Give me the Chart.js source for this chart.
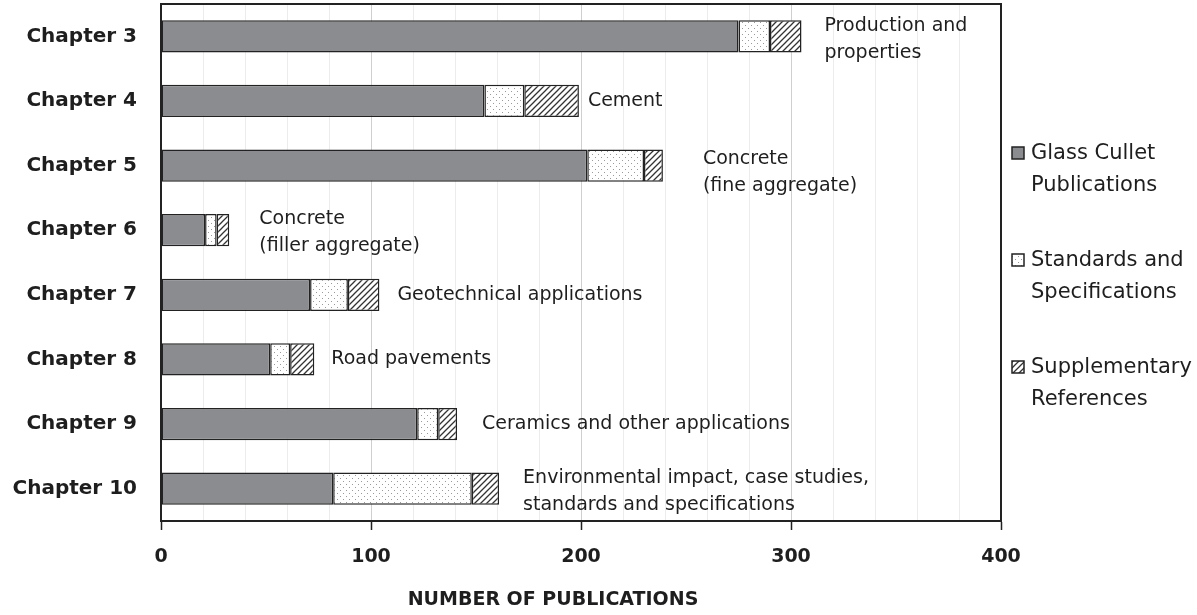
<!DOCTYPE html>
<html>
<head>
<meta charset="utf-8">
<script src="https://cdn.jsdelivr.net/npm/chart.js"></script>
<style>
  html, body { margin: 0; padding: 0; background: #fff; }
  #wrap { width: 1197px; height: 615px; }
</style>
</head>
<body>
<div id="wrap"><canvas id="pubChart" width="1197" height="615"></canvas></div>
<script>
// categories and values
const chapters = ['Chapter 3', 'Chapter 4', 'Chapter 5', 'Chapter 6', 'Chapter 7', 'Chapter 8', 'Chapter 9', 'Chapter 10'];
const glassCullet = [275, 154, 203, 21, 71, 52, 122, 82];
const standardsSpecs = [15, 19, 27, 5.5, 18, 9.5, 10, 66];
const supplementaryRefs = [15, 26, 9, 6, 15, 11.5, 9, 13];
const xTicks = [0, 100, 200, 300, 400];
const chapterNotes = [
    ['Production and', 'properties'],
    ['Cement'],
    ['Concrete', '(fine aggregate)'],
    ['Concrete', '(filler aggregate)'],
    ['Geotechnical applications'],
    ['Road pavements'],
    ['Ceramics and other applications'],
    ['Environmental impact, case studies,', 'standards and specifications']
];
const legendLabels = [['Glass Cullet', 'Publications'], ['Standards and', 'Specifications'], ['Supplementary', 'References']];
const axisTitle = 'NUMBER OF PUBLICATIONS';

const FONT = "'DejaVu Sans', sans-serif";
const INK = '#1e1e1e';

// motifs de remplissage
function dotPattern() {
    const c = document.createElement('canvas');
    c.width = 6; c.height = 6;
    const g = c.getContext('2d');
    g.fillStyle = '#fff';
    g.fillRect(0, 0, 6, 6);
    g.fillStyle = '#9a9a9a';
    g.fillRect(1, 1, 1, 1);
    g.fillRect(4, 4, 1, 1);
    return g.createPattern(c, 'repeat');
}
function hatchPattern() {
    const c = document.createElement('canvas');
    c.width = 6; c.height = 6;
    const g = c.getContext('2d');
    g.fillStyle = '#fff';
    g.fillRect(0, 0, 6, 6);
    g.strokeStyle = '#333';
    g.lineWidth = 1.3;
    g.beginPath();
    g.moveTo(0, 6); g.lineTo(6, 0);
    g.moveTo(-1, 1); g.lineTo(1, -1);
    g.moveTo(5, 7); g.lineTo(7, 5);
    g.stroke();
    return g.createPattern(c, 'repeat');
}

const fills = ['#8b8c90', dotPattern(), hatchPattern()];

// gap in px between bar end and its note, and small vertical nudge
const noteGap = [23, 9, 40, 30, 18, 17, 25, 24];
const noteShift = [1, 0, 5, 0, 0, 0, 0, 1];

const framePlugin = {
    id: 'frame',
    afterDatasetsDraw(chart) {
        const { ctx, chartArea: a, scales } = chart;
        ctx.save();
        // notes next to the bars
        ctx.font = '19px ' + FONT;
        ctx.fillStyle = INK;
        ctx.textBaseline = 'middle';
        ctx.textAlign = 'left';
        chapters.forEach((c, i) => {
            const total = glassCullet[i] + standardsSpecs[i] + supplementaryRefs[i];
            const x = scales.x.getPixelForValue(total) + noteGap[i];
            const yc = scales.y.getPixelForValue(i) + noteShift[i];
            const lines = chapterNotes[i];
            const lh = 27;
            const y0 = yc - (lines.length - 1) * lh / 2 + (lines.length > 1 ? 2 : 0);
            lines.forEach((t, k) => ctx.fillText(t, x, y0 + k * lh));
        });
        // box
        ctx.strokeStyle = '#222';
        ctx.lineWidth = 2;
        ctx.strokeRect(a.left, a.top, a.right - a.left, a.bottom - a.top);
        // legend
        const lx = a.right + 11;
        const ys = [153, 260, 367];
        ctx.font = '21px ' + FONT;
        legendLabels.forEach((lab, i) => {
            ctx.fillStyle = fills[i];
            ctx.fillRect(lx, ys[i] - 6, 12, 12);
            ctx.strokeStyle = '#222';
            ctx.lineWidth = 1.5;
            ctx.strokeRect(lx, ys[i] - 6, 12, 12);
            ctx.fillStyle = INK;
            lab.forEach((t, k) => ctx.fillText(t, lx + 19, ys[i] + 1 + k * 32));
        });
        // axis title
        ctx.font = 'bold 19px ' + FONT;
        ctx.textAlign = 'center';
        ctx.fillText(axisTitle, 553, 600);
        ctx.restore();
    }
};

new Chart(document.getElementById('pubChart'), {
    type: 'bar',
    data: {
        labels: chapters,
        datasets: [
            { label: 'Glass Cullet Publications', data: glassCullet },
            { label: 'Standards and Specifications', data: standardsSpecs },
            { label: 'Supplementary References', data: supplementaryRefs }
        ].map((d, i) => ({
            ...d,
            backgroundColor: fills[i],
            borderColor: '#222',
            borderWidth: 1.5,
            borderSkipped: false,
            barPercentage: 0.5,
            categoryPercentage: 1
        }))
    },
    options: {
        indexAxis: 'y',
        responsive: false,
        animation: false,
        layout: { padding: { top: 4, right: 196, left: 0, bottom: 0 } },
        plugins: { legend: { display: false }, tooltip: { enabled: false } },
        scales: {
            x: {
                stacked: true,
                min: 0,
                max: 400,
                afterFit(scale) {
                    scale.height = 94;
                    scale.paddingLeft = 0;
                    scale.paddingRight = 0;
                },
                ticks: {
                    stepSize: 20,
                    padding: 16,
                    maxRotation: 0,
                    minRotation: 0,
                    autoSkip: false,
                    color: INK,
                    font: { family: FONT, size: 19, weight: 'bold' },
                    callback: v => xTicks.includes(v) ? v : ''
                },
                grid: {
                    color: c => (c.tick && c.tick.value % 100 === 0) ? '#cfcfcf' : '#ececec',
                    tickColor: c => (c.tick && c.tick.value % 100 === 0) ? '#222' : 'rgba(0,0,0,0)',
                    tickLength: 9,
                    tickWidth: 1.5
                },
                border: { display: true, color: '#222', width: 2 }
            },
            y: {
                stacked: true,
                afterFit(scale) {
                    scale.width = 161;
                    scale.paddingTop = 0;
                    scale.paddingBottom = 0;
                },
                ticks: {
                    padding: 24,
                    color: INK,
                    font: { family: FONT, size: 20, weight: 'bold' }
                },
                grid: { display: false, drawTicks: false },
                border: { display: true, color: '#222', width: 2 }
            }
        }
    },
    plugins: [framePlugin]
});
</script>
</body>
</html>
